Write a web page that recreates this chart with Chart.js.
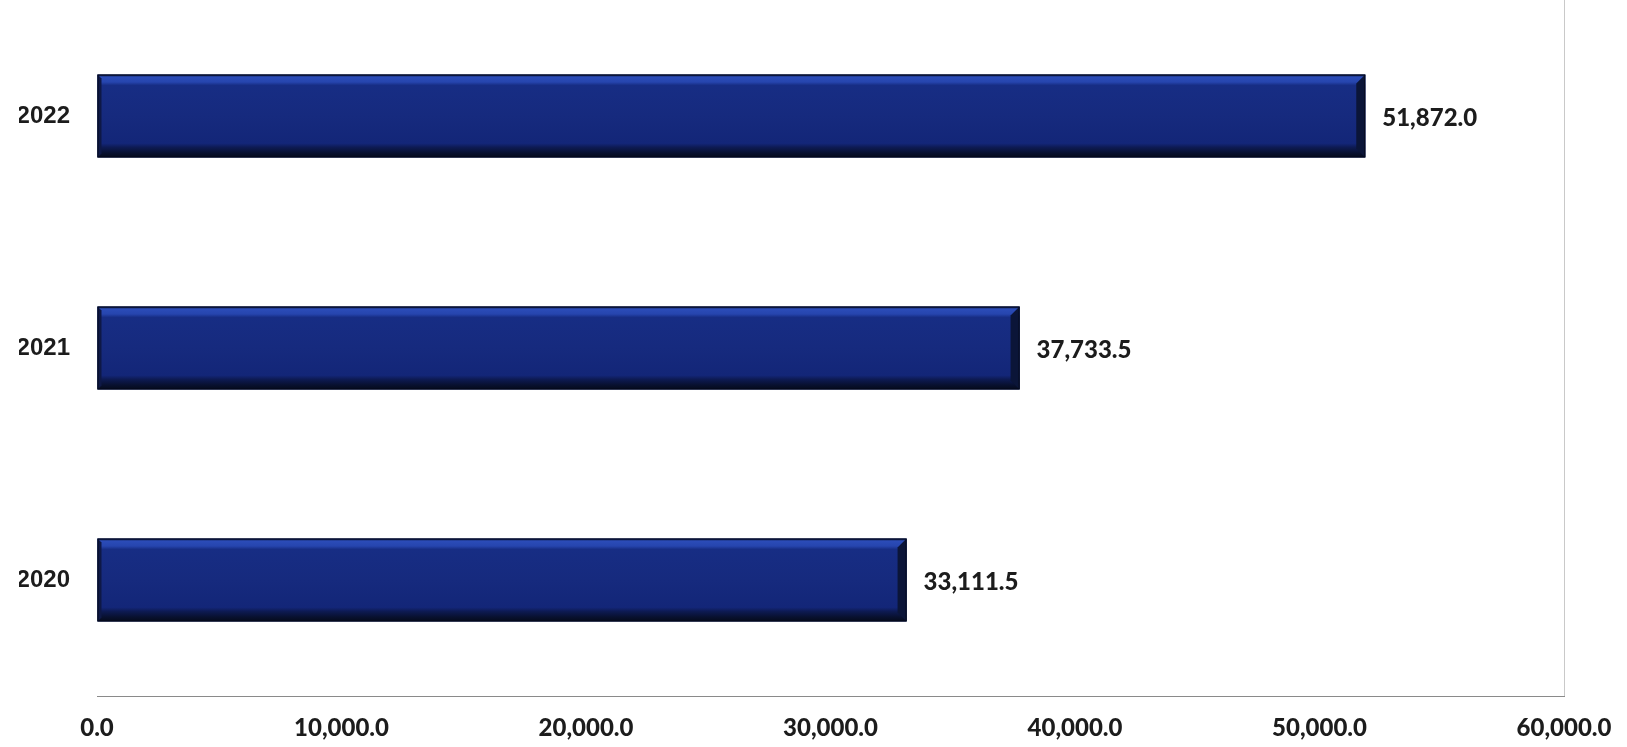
<!DOCTYPE html>
<html>
<head>
<meta charset="utf-8">
<script src="https://cdn.jsdelivr.net/npm/chart.js@4.4.1/dist/chart.umd.min.js"></script>
<style>
  html, body { margin: 0; padding: 0; background: #ffffff; }
  #wrap { width: 1627px; height: 747px; position: relative; }
</style>
</head>
<body>
<div id="wrap"><canvas id="chart"></canvas></div>
<script>
// data
const years = ['2022', '2021', '2020'];
const values = [51872.0, 37733.5, 33111.5];
const xTicks = [0, 10000, 20000, 30000, 40000, 50000, 60000];

const fmt = v => v.toLocaleString('en-US', { minimumFractionDigits: 1, maximumFractionDigits: 1 });

// bevelled look of the bars, drawn over what the library placed
const bevelBars = {
  id: 'bevelBars',
  afterDatasetsDraw(chart) {
    const ctx = chart.ctx;
    chart.getDatasetMeta(0).data.forEach(bar => {
      const p = bar.getProps(['x', 'y', 'base', 'height'], true);
      const left = Math.min(p.base, p.x), right = Math.max(p.base, p.x);
      const top = p.y - p.height / 2, bottom = p.y + p.height / 2;
      const w = right - left, h = bottom - top;
      ctx.save();
      let g = ctx.createLinearGradient(0, top, 0, bottom);
      g.addColorStop(0, '#0a1436');
      g.addColorStop(0.03, '#2b4cb8');
      g.addColorStop(0.09, '#2645ae');
      g.addColorStop(0.13, '#172d84');
      g.addColorStop(0.5, '#162a7e');
      g.addColorStop(0.83, '#132678');
      g.addColorStop(0.88, '#0d1a52');
      g.addColorStop(0.95, '#08102e');
      g.addColorStop(1, '#050a1c');
      ctx.fillStyle = g;
      ctx.fillRect(left, top, w, h);
      // right end bevel
      const e = 9;
      ctx.beginPath();
      ctx.moveTo(right, top);
      ctx.lineTo(right, bottom);
      ctx.lineTo(right - e, bottom - e);
      ctx.lineTo(right - e, top + e);
      ctx.closePath();
      ctx.fillStyle = '#0b1538';
      ctx.fill();
      // left end bevel
      ctx.beginPath();
      ctx.moveTo(left, top);
      ctx.lineTo(left, bottom);
      ctx.lineTo(left + 4, bottom - 4);
      ctx.lineTo(left + 4, top + 4);
      ctx.closePath();
      ctx.fillStyle = '#0e1846';
      ctx.fill();
      ctx.strokeStyle = '#050a1c';
      ctx.lineWidth = 1;
      ctx.strokeRect(left + 0.5, top + 0.5, w - 1, h - 1);
      ctx.restore();
    });
  }
};

// value labels to the right of each bar
const valueLabels = {
  id: 'valueLabels',
  afterDatasetsDraw(chart) {
    const ctx = chart.ctx;
    ctx.save();
    ctx.font = '900 24px Lato';
    ctx.fillStyle = '#1c1c1c';
    ctx.textAlign = 'left';
    ctx.textBaseline = 'middle';
    chart.getDatasetMeta(0).data.forEach((bar, i) => {
      ctx.fillText(fmt(values[i]), bar.x + 17, bar.y + 2);
    });
    ctx.restore();
  }
};

new Chart(document.getElementById('chart'), {
  type: 'bar',
  data: {
    labels: years,
    datasets: [{
      data: values,
      backgroundColor: '#162a7e',
      borderWidth: 0,
      barPercentage: 0.357,
      categoryPercentage: 1.0
    }]
  },
  options: {
    indexAxis: 'y',
    responsive: true,
    maintainAspectRatio: false,
    animation: false,
    layout: { padding: { left: 19, right: 63, top: 0, bottom: 4 } },
    plugins: {
      legend: { display: false },
      tooltip: { enabled: false }
    },
    scales: {
      x: {
        min: 0,
        max: 60000,
        afterBuildTicks: axis => { axis.ticks = xTicks.map(v => ({ value: v })); },
        afterFit: s => { s.height = 47; s.paddingLeft = 0; s.paddingRight = 0; },
        ticks: {
          padding: 18,
          maxRotation: 0,
          color: '#1c1c1c',
          font: { family: 'Lato', size: 24, weight: '900' },
          callback: v => fmt(v)
        },
        grid: {
          drawTicks: false,
          color: ctx => ctx.tick && ctx.tick.value === 60000 ? '#c9c9c9' : 'rgba(0,0,0,0)'
        },
        border: { display: true, color: '#8a8a8a', width: 1 }
      },
      y: {
        // keep the axis from pushing the plot down
        afterFit: s => { s.width = 78; s.paddingTop = 0; s.paddingBottom = 0; },
        ticks: {
          padding: 27,
          color: '#1c1c1c',
          font: { family: 'Liberation Sans', size: 24, weight: 'bold' }
        },
        grid: { display: false, drawTicks: false },
        border: { display: false }
      }
    }
  },
  plugins: [bevelBars, valueLabels]
});
</script>
</body>
</html>
